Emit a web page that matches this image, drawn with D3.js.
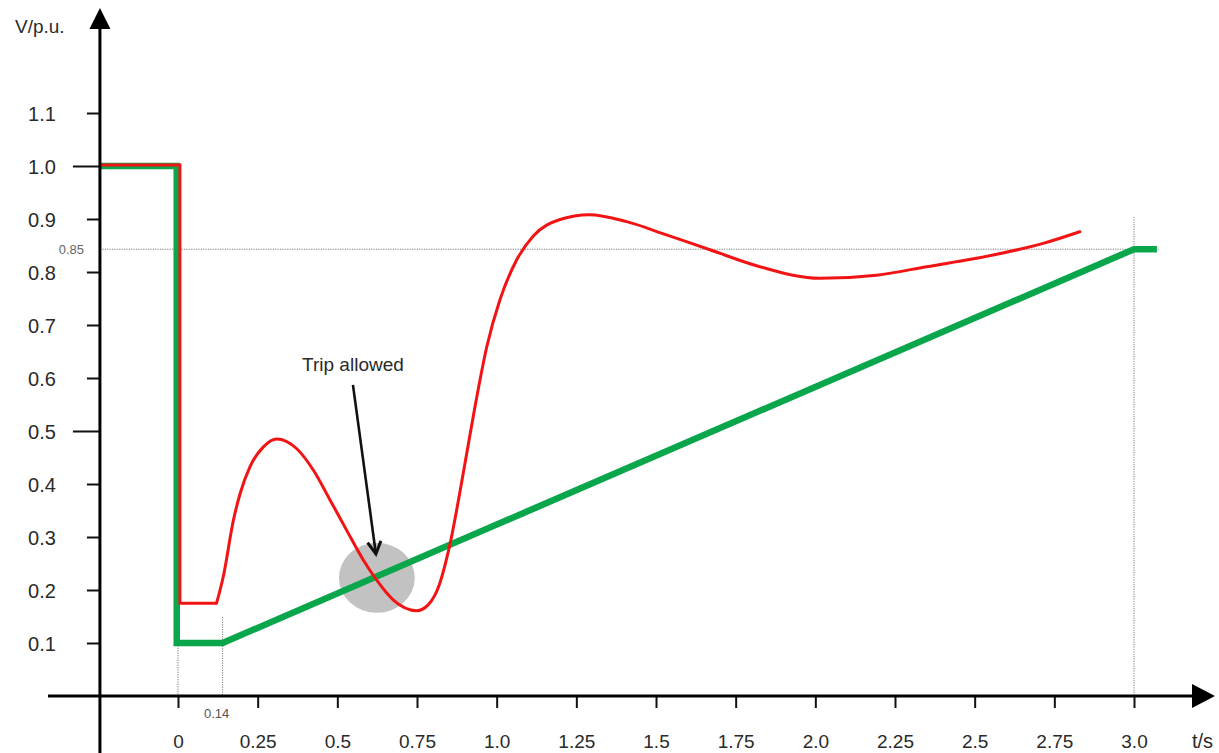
<!DOCTYPE html>
<html>
<head>
<meta charset="utf-8">
<script src="https://cdn.jsdelivr.net/npm/d3@7"></script>
<style>
  html, body { margin: 0; padding: 0; background: #fff; }
  svg { display: block; font-family: "Liberation Sans", Arial, sans-serif; }
</style>
</head>
<body>
<svg id="chart" width="1219" height="753"></svg>
<script>
// ---------- data ----------
const xTickValues = [0, 0.25, 0.5, 0.75, 1.0, 1.25, 1.5, 1.75, 2.0, 2.25, 2.5, 2.75, 3.0];
const xTickLabels = ["0", "0.25", "0.5", "0.75", "1.0", "1.25", "1.5", "1.75", "2.0", "2.25", "2.5", "2.75", "3.0"];
const yTickValues = [0.1, 0.2, 0.3, 0.4, 0.5, 0.6, 0.7, 0.8, 0.9, 1.0, 1.1];
const yTickLabels = ["0.1", "0.2", "0.3", "0.4", "0.5", "0.6", "0.7", "0.8", "0.9", "1.0", "1.1"];
const yMajorTicks = [0.5, 1.0];

// green: required voltage limit curve (fault ride-through)
const greenT = [-0.245, -0.004, -0.004, 0.14, 3.0, 3.072];
const greenV = [1.0, 1.0, 0.1, 0.1, 0.843, 0.843];

// red: actual voltage - step part
const redStepT = [-0.245, 0.006, 0.006, 0.121];
const redStepV = [1.002, 1.002, 0.175, 0.175];
// red: actual voltage - recovery part
const redT = [0.121, 0.142, 0.174, 0.195, 0.226, 0.268, 0.310, 0.372, 0.425, 0.477, 0.529, 0.581, 0.623, 0.676, 0.749, 0.785, 0.820, 0.853, 0.895, 0.932, 0.969, 1.010, 1.063, 1.115, 1.199, 1.290, 1.408, 1.533, 1.669, 1.826, 2.014, 2.192, 2.349, 2.558, 2.715, 2.830];
const redV = [0.175, 0.225, 0.332, 0.382, 0.433, 0.470, 0.485, 0.467, 0.426, 0.370, 0.313, 0.257, 0.219, 0.181, 0.161, 0.172, 0.210, 0.285, 0.420, 0.546, 0.659, 0.747, 0.823, 0.868, 0.899, 0.908, 0.895, 0.870, 0.842, 0.810, 0.788, 0.794, 0.810, 0.832, 0.854, 0.876];

const thresholdV = 0.843;      // "0.85" level as drawn
const thresholdLabel = "0.85";
const markerT = 0.14;
const markerLabel = "0.14";
const endT = 3.0;
const tStart = -0.245;
const tEnd = 3.072;

// trip-allowed annotation
const tripCenter = [0.624, 0.223];
const tripRadius = [0.119, 0.066];
const arrowFrom = [0.549, 0.587];
const arrowTo = [0.621, 0.268];
const tripText = "Trip allowed";
const tripTextPos = [0.549, 0.613];

// ---------- drawing ----------
const svg = d3.select("#chart");
const x = d3.scaleLinear().domain([0, 3]).range([178, 1134]);
const y = d3.scaleLinear().domain([0, 1]).range([696, 166]);
const X0 = x(tStart);          // y-axis position
const Y0 = y(0);               // x-axis position

const dotted = { stroke: "#7a7a7a", "stroke-width": 1, "stroke-dasharray": "1.2,1.2" };
function applyAttrs(sel, o) { for (const k in o) sel.attr(k, o[k]); return sel; }

// threshold dotted line
applyAttrs(svg.append("line")
  .attr("x1", X0).attr("x2", x(tEnd) + 2)
  .attr("y1", y(thresholdV)).attr("y2", y(thresholdV)), dotted);
// vertical dotted markers
applyAttrs(svg.append("line")
  .attr("x1", x(0)).attr("x2", x(0))
  .attr("y1", y(0.1)).attr("y2", Y0), dotted);
applyAttrs(svg.append("line")
  .attr("x1", x(markerT)).attr("x2", x(markerT))
  .attr("y1", y(0.149)).attr("y2", Y0), dotted);
applyAttrs(svg.append("line")
  .attr("x1", x(endT)).attr("x2", x(endT))
  .attr("y1", y(0.904)).attr("y2", Y0), dotted);

// gray trip zone
svg.append("ellipse")
  .attr("cx", x(tripCenter[0])).attr("cy", y(tripCenter[1]))
  .attr("rx", x(tripCenter[0] + tripRadius[0]) - x(tripCenter[0]))
  .attr("ry", y(tripCenter[1] - tripRadius[1]) - y(tripCenter[1]))
  .attr("fill", "#c2c2c2");

// green line
const lineLin = d3.line().x(d => x(d[0])).y(d => y(d[1]));
svg.append("path")
  .datum(d3.zip(greenT, greenV))
  .attr("d", lineLin)
  .attr("fill", "none").attr("stroke", "#0aa64c")
  .attr("stroke-width", 6.5).attr("stroke-linejoin", "miter");

// red line
svg.append("path")
  .datum(d3.zip(redStepT, redStepV))
  .attr("d", lineLin)
  .attr("fill", "none").attr("stroke", "#f21414")
  .attr("stroke-width", 3).attr("stroke-linejoin", "miter");
const lineSmooth = d3.line().x(d => x(d[0])).y(d => y(d[1])).curve(d3.curveMonotoneX);
svg.append("path")
  .datum(d3.zip(redT, redV))
  .attr("d", lineSmooth)
  .attr("fill", "none").attr("stroke", "#f21414")
  .attr("stroke-width", 3).attr("stroke-linecap", "round");

// annotation arrow
const ax1 = x(arrowFrom[0]), ay1 = y(arrowFrom[1]);
const ax2 = x(arrowTo[0]), ay2 = y(arrowTo[1]);
svg.append("line")
  .attr("x1", ax1).attr("y1", ay1).attr("x2", ax2).attr("y2", ay2)
  .attr("stroke", "#111").attr("stroke-width", 2.6);
{
  const ang = Math.atan2(ay2 - ay1, ax2 - ax1);
  const L = 14, Wd = 0.5;
  const p1 = [ax2 - L * Math.cos(ang - Wd), ay2 - L * Math.sin(ang - Wd)];
  const p2 = [ax2 - L * Math.cos(ang + Wd), ay2 - L * Math.sin(ang + Wd)];
  svg.append("path")
    .attr("d", `M${p1[0]},${p1[1]}L${ax2},${ay2}L${p2[0]},${p2[1]}`)
    .attr("fill", "none").attr("stroke", "#111").attr("stroke-width", 3)
    .attr("stroke-linejoin", "miter");
}
svg.append("text")
  .attr("x", x(tripTextPos[0])).attr("y", y(tripTextPos[1]))
  .attr("text-anchor", "middle")
  .attr("font-size", 19).attr("fill", "#2a2a2a")
  .text(tripText);

// axes
const xAxis = d3.axisBottom(x)
  .tickValues(xTickValues)
  .tickFormat((d, i) => xTickLabels[i])
  .tickSize(12).tickPadding(27);
const gx = svg.append("g").attr("transform", `translate(0,${Y0})`).call(xAxis);
gx.select(".domain").remove();
gx.selectAll(".tick line").attr("stroke", "#111").attr("stroke-width", 2);
gx.selectAll(".tick text").attr("font-size", 19).attr("fill", "#2a2a2a")
  .attr("font-family", "Liberation Sans, Arial, sans-serif");

const yAxis = d3.axisLeft(y)
  .tickValues(yTickValues)
  .tickFormat((d, i) => yTickLabels[i])
  .tickSize(13).tickPadding(31);
const gy = svg.append("g").attr("transform", `translate(${X0},0)`).call(yAxis);
gy.select(".domain").remove();
gy.selectAll(".tick line").attr("stroke", "#111").attr("stroke-width", 2)
  .attr("x2", d => yMajorTicks.some(m => Math.abs(m - d) < 1e-9) ? -27 : -13);
gy.selectAll(".tick text").attr("font-size", 20).attr("fill", "#2a2a2a")
  .attr("dy", "0.36em")
  .attr("font-family", "Liberation Sans, Arial, sans-serif");

// axis lines with arrowheads
svg.append("line").attr("x1", X0).attr("x2", X0).attr("y1", 26).attr("y2", 753)
  .attr("stroke", "#000").attr("stroke-width", 3);
svg.append("path").attr("d", `M${X0},8L${X0 + 10.5},29L${X0 - 10.5},29Z`).attr("fill", "#000");
svg.append("line").attr("x1", 48).attr("x2", 1195).attr("y1", Y0).attr("y2", Y0)
  .attr("stroke", "#000").attr("stroke-width", 3);
svg.append("path").attr("d", `M1215,${Y0}L1192,${Y0 - 12}L1192,${Y0 + 12}Z`).attr("fill", "#000");

// axis titles and small labels
svg.append("text").attr("x", 15).attr("y", 33).attr("font-size", 19).attr("fill", "#2a2a2a").text("V/p.u.");
svg.append("text").attr("x", 1192).attr("y", 748).attr("font-size", 20).attr("fill", "#2a2a2a").text("t/s");
svg.append("text").attr("x", 84).attr("y", y(thresholdV) + 5).attr("text-anchor", "end")
  .attr("font-size", 13).attr("fill", "#666").text(thresholdLabel);
svg.append("text").attr("x", x(markerT) - 6).attr("y", 718).attr("text-anchor", "middle")
  .attr("font-size", 13).attr("fill", "#555").text(markerLabel);
</script>
</body>
</html>
